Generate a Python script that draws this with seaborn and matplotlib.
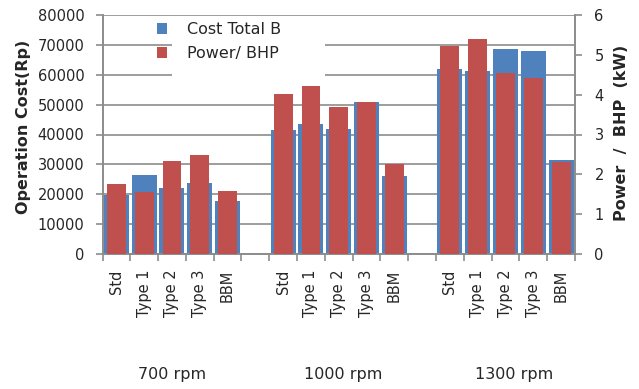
import numpy as np
import pandas as pd
import matplotlib
matplotlib.use("Agg")
import matplotlib.pyplot as plt
import seaborn as sns
from matplotlib.patches import Rectangle, Patch
from matplotlib.ticker import FixedLocator, MultipleLocator

# ---- data ----
groups = ["700 rpm", "1000 rpm", "1300 rpm"]
types = ["Std", "Type 1", "Type 2", "Type 3", "BBM"]
cost_700 = [19700, 26500, 22200, 23900, 17800]
cost_1000 = [41400, 43400, 41900, 51000, 26200]
cost_1300 = [61900, 61200, 68600, 68000, 31500]
power_700 = [1.75, 1.56, 2.33, 2.48, 1.57]
power_1000 = [4.01, 4.23, 3.69, 3.82, 2.27]
power_1300 = [5.23, 5.39, 4.54, 4.43, 2.30]

costs = [cost_700, cost_1000, cost_1300]
powers = [power_700, power_1000, power_1300]

rows = []
order = []
tick_labels = []
for gi, g in enumerate(groups):
    if gi > 0:
        order.append(f"gap{gi}")
        tick_labels.append("")
    for ti, t in enumerate(types):
        key = f"{g}|{t}"
        order.append(key)
        tick_labels.append(t)
        rows.append({"key": key, "cost": costs[gi][ti], "power": powers[gi][ti]})
df = pd.DataFrame(rows)

BLUE = "#4F81BD"
RED = "#C0504D"
GRID = "#8C8C8C"

sns.set_style("white")
plt.rcParams["font.family"] = ["DejaVu Sans"]

fig = plt.figure(figsize=(6.39, 3.89), dpi=100)
L, R, B, T = 102.5 / 639, 575 / 639, 1 - 254 / 389, 1 - 15 / 389
ax = fig.add_axes([L, B, R - L, T - B])

sns.barplot(data=df, x="key", y="cost", order=order, color=BLUE, saturation=1,
            width=0.9, errorbar=None, ax=ax, zorder=2, linewidth=0, edgecolor="none")
ax.set_ylim(0, 80000)
ax.yaxis.set_major_locator(MultipleLocator(10000))
ax.grid(axis="y", color=GRID, linewidth=1.2, zorder=0)
ax.set_axisbelow(True)

ax2 = ax.twinx()
sns.barplot(data=df, x="key", y="power", order=order, color=RED, saturation=1,
            width=0.68, errorbar=None, ax=ax2, zorder=3, linewidth=0, edgecolor="none")
ax2.set_ylim(0, 6)
ax2.yaxis.set_major_locator(MultipleLocator(1))
ax2.set_xlabel("")

# x ticks: labels at centers, tick marks at boundaries
n = len(order)
ax.set_xlim(-0.5, n - 0.5)
ax.set_xticks(np.arange(n))
ax.set_xticklabels(tick_labels, rotation=90, fontsize=10.5)
ax.xaxis.set_minor_locator(FixedLocator(np.arange(n + 1) - 0.5))
ax.tick_params(axis="x", which="major", length=0, pad=11)
ax.tick_params(axis="x", which="minor", length=5, color=GRID, width=1.2, bottom=True)
ax.set_xlabel("")

ax.tick_params(axis="y", which="major", length=5, color=GRID, width=1.2, labelsize=10.5, pad=8, left=True)
ax2.tick_params(axis="y", which="major", length=5, color=GRID, width=1.2, labelsize=10.5, pad=9, right=True)

for a in (ax, ax2):
    for s in ("left", "right", "bottom"):
        a.spines[s].set_color(GRID)
        a.spines[s].set_linewidth(1.2)
    a.spines["top"].set_visible(False)

ax.set_ylabel("Operation Cost(Rp)", fontsize=11.5, fontweight="bold")
ax.yaxis.set_label_coords(-0.151, 0.53)
ax2.set_ylabel("Power  /  BHP  (kW)", fontsize=11.5, fontweight="bold")
ax2.yaxis.set_label_coords(1.0825, 0.506)

# group labels
group_x = [2, 8.15, 14.3]
trans = matplotlib.transforms.blended_transform_factory(ax.transData, ax.transAxes)
for gx, g in zip(group_x, groups):
    ax.text(gx, -0.506, g, transform=trans, ha="center", va="center", fontsize=11.5)

# legend background (covers gridlines)
ax.add_patch(Rectangle((0.147, 0.72), 0.324, 0.26, transform=ax.transAxes,
                       facecolor="white", edgecolor="none", zorder=1.5))
handles = [Patch(facecolor=BLUE, edgecolor="none", label="Cost Total B"),
           Patch(facecolor=RED, edgecolor="none", label="Power/ BHP")]
ax2.legend(handles=handles, loc="upper left", bbox_to_anchor=(157 / 639, 1 - 22 / 389),
           bbox_transform=fig.transFigure, frameon=False, fontsize=11.5,
           handlelength=0.65, handleheight=0.65, handletextpad=1.2,
           labelspacing=0.55, borderpad=0, borderaxespad=0)

fig.savefig("out.png", dpi=100)
